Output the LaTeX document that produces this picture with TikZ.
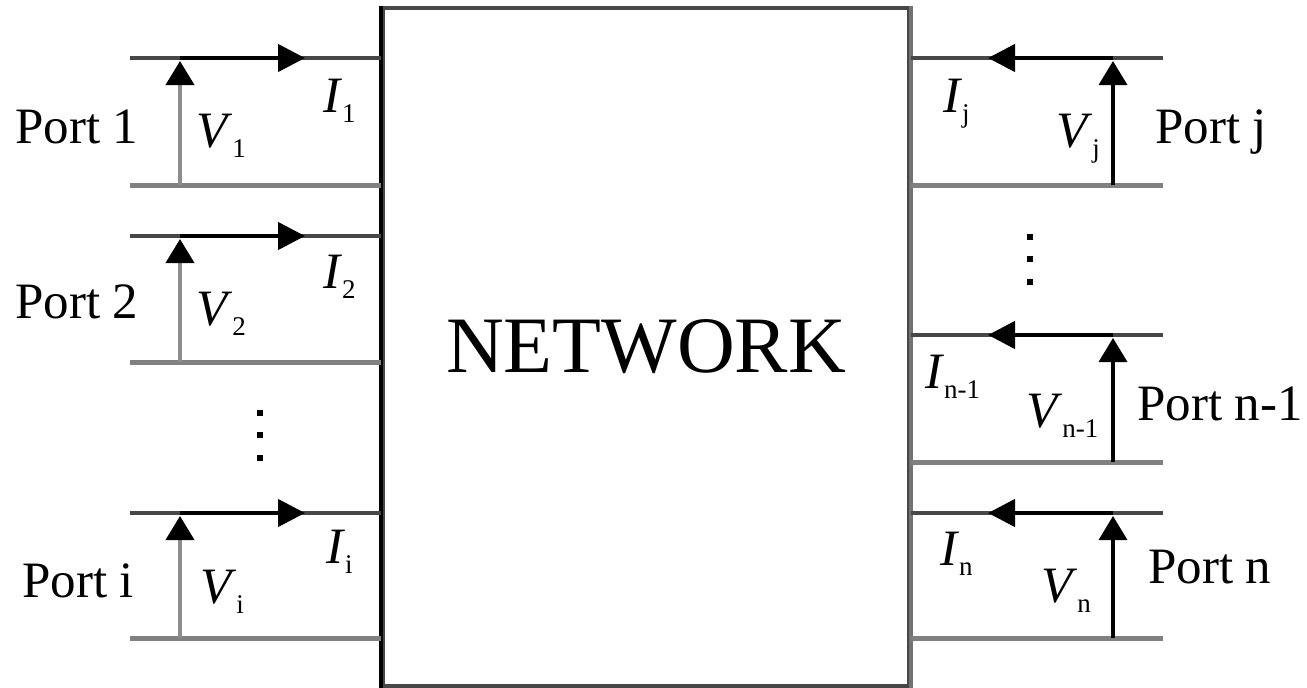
\documentclass[tikz,border=0pt]{standalone}
\usepackage{fontspec}
\setmainfont{Liberation Serif}
\usetikzlibrary{arrows.meta}
\newcommand{\lbl}[2]{\textit{#1}\raisebox{-10pt}{\fontsize{27}{27}\selectfont #2}}
\begin{document}
\begin{tikzpicture}[x=1pt,y=-1pt,
  wiretop/.style={line width=4.5pt, draw=black!72},
  wirebot/.style={line width=5pt, draw=black!50},
  curarrow/.style={line width=4.5pt, draw=black, -{Triangle[length=27pt,width=27pt]}},
  voltleft/.style={line width=4pt, draw=black!45, -{Triangle[length=24pt,width=28pt,color=black]}},
  voltright/.style={line width=3.5pt, draw=black, -{Triangle[length=24pt,width=28pt]}},
  porttext/.style={anchor=base west, inner sep=0pt, font=\fontsize{51}{60}\selectfont},
  vitext/.style={anchor=base west, inner sep=0pt, font=\fontsize{51}{60}\selectfont},
  dotsq/.style={fill=black, draw=none}]
\useasboundingbox (0,0) rectangle (1307,688);
% network box
\node[draw=black!72, line width=4pt, minimum width=526pt, minimum height=678pt,
      inner sep=0pt, font=\fontsize{80}{90}\selectfont] (net) at (646,347) {NETWORK};
\draw[line width=4pt, black] (net.north west) -- (net.south west);
\draw[line width=4pt, black!55] (net.north east) -- (net.south east);
% left ports
\foreach \n/\t/\b in {1/58/185, 2/236/362, i/513/638}{
  \coordinate (L\n ta) at (130,\t);
  \coordinate (L\n tb) at (381,\t);
  \coordinate (L\n ba) at (130,\b);
  \coordinate (L\n bb) at (381,\b);
  \coordinate (L\n v0) at (180,\b);
  \coordinate (L\n v1) at (180,\t+3);
  \coordinate (L\n c0) at (180,\t);
  \coordinate (L\n c1) at (305,\t);
  \draw[wiretop] (L\n ta) -- (L\n tb);
  \draw[wirebot] (L\n ba) -- (L\n bb);
  \draw[voltleft] (L\n v0) -- (L\n v1);
  \draw[curarrow] (L\n c0) -- (L\n c1);
}
% right ports
\foreach \n/\t/\b in {j/58/185, m/335/462, n/513/638}{
  \coordinate (R\n ta) at (911,\t);
  \coordinate (R\n tb) at (1163,\t);
  \coordinate (R\n ba) at (911,\b);
  \coordinate (R\n bb) at (1163,\b);
  \coordinate (R\n v0) at (1113,\b);
  \coordinate (R\n v1) at (1113,\t+3);
  \coordinate (R\n c0) at (1113,\t);
  \coordinate (R\n c1) at (988,\t);
  \draw[wiretop] (R\n ta) -- (R\n tb);
  \draw[wirebot] (R\n ba) -- (R\n bb);
  \draw[voltright] (R\n v0) -- (R\n v1);
  \draw[curarrow] (R\n c0) -- (R\n c1);
}
% dots
\foreach \y [count=\k] in {413,435,458}{
  \fill[dotsq] (257,\y-3) rectangle (263,\y+3);
}
\foreach \y in {237,259,282}{
  \fill[dotsq] (1027,\y-3) rectangle (1033,\y+3);
}
% left labels
\node[porttext] (port1) at (15,143) {Port 1};
\node[porttext] (port2) at (15,318) {Port 2};
\node[porttext] (porti) at (22,597) {Port i};
\node[vitext] (v1) at (196,147) {\lbl{V}{1}};
\node[vitext] (v2) at (196,325) {\lbl{V}{2}};
\node[vitext] (vi) at (200,603) {\lbl{V}{i}};
\node[vitext] (i1) at (323,112) {\lbl{I}{1}};
\node[vitext] (i2) at (323,288) {\lbl{I}{2}};
\node[vitext] (ii) at (326,563) {\lbl{I}{i}};
% right labels
\node[porttext] (portj) at (1155,143) {Port j};
\node[porttext] (portm) at (1137,420) {Port n-1};
\node[porttext] (portn) at (1148,583) {Port n};
\node[vitext] (vj) at (1056,147) {\lbl{V}{j}};
\node[vitext] (vm) at (1026,427) {\lbl{V}{n-1}};
\node[vitext] (vn) at (1041,602) {\lbl{V}{n}};
\node[vitext] (ij) at (943,112) {\lbl{I}{j}};
\node[vitext] (im) at (925,388) {\lbl{I}{n-1}};
\node[vitext] (in) at (940,565) {\lbl{I}{n}};
\end{tikzpicture}
\end{document}
